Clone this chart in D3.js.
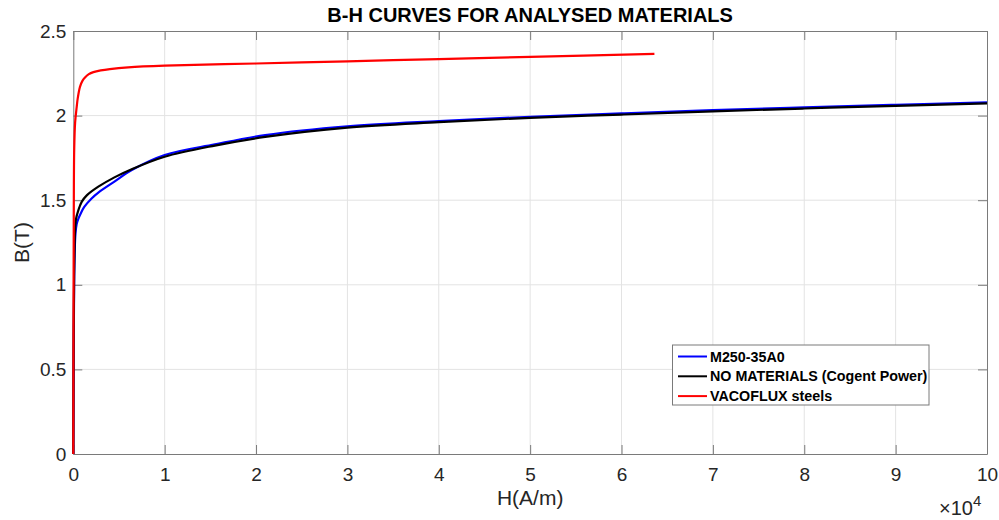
<!DOCTYPE html>
<html>
<head>
<meta charset="utf-8">
<script src="https://cdn.jsdelivr.net/npm/d3@7"></script>
<style>
  body { margin: 0; background: #fff; }
  text { font-family: "Liberation Sans", Arial, sans-serif; }
</style>
</head>
<body>
<div class="chart"></div>
<script>
// magnetic field strength (A/m) and flux density (T)
var hM250 = [0, 40, 90, 150, 250, 370, 550, 800, 1200, 2000, 2740, 4500, 6400, 10000, 15500, 21000, 30000, 40000, 50000, 60000, 70000, 80000, 90000, 100000]
var bM250 = [0, 0.6, 1.0, 1.2, 1.31, 1.36, 1.39, 1.42, 1.46, 1.51, 1.545, 1.61, 1.678, 1.767, 1.83, 1.885, 1.937, 1.968, 1.993, 2.013, 2.032, 2.049, 2.064, 2.078]

var hNo = [0, 40, 90, 150, 190, 300, 550, 920, 1500, 2740, 4500, 6390, 10000, 15500, 21000, 30000, 40000, 50000, 60000, 70000, 80000, 90000, 100000]
var bNo = [0, 0.7, 1.05, 1.25, 1.32, 1.39, 1.44, 1.49, 1.53, 1.58, 1.635, 1.683, 1.757, 1.823, 1.874, 1.929, 1.961, 1.987, 2.006, 2.025, 2.042, 2.058, 2.072]

var hVac = [0, 20, 50, 100, 200, 370, 480, 730, 1000, 1280, 1700, 2200, 3000, 4000, 6000, 10000, 20000, 30000, 40000, 50000, 63600]
var bVac = [0, 0.7, 1.4, 1.8, 1.96, 2.05, 2.10, 2.17, 2.205, 2.225, 2.245, 2.257, 2.267, 2.275, 2.285, 2.295, 2.308, 2.321, 2.334, 2.347, 2.365]

var seriesNames = ["M250-35A0", "NO MATERIALS (Cogent Power)", "VACOFLUX steels"]
var seriesColors = ["#0000ff", "#000000", "#ff0000"]

var xTicks = [0, 1, 2, 3, 4, 5, 6, 7, 8, 9, 10]   // x 10^4
var yTicks = [0, 0.5, 1, 1.5, 2, 2.5]

var series = [
  hM250.map((h, i) => [h, bM250[i]]),
  hNo.map((h, i) => [h, bNo[i]]),
  hVac.map((h, i) => [h, bVac[i]])
]

var svgW = 999, svgH = 520
var pLeft = 73.3, pRight = 987, pTop = 31, pBottom = 454

var svg = d3.select(".chart").append("svg").attr("width", svgW).attr("height", svgH)

var x = d3.scaleLinear().domain([0, 100000]).range([pLeft, pRight])
var y = d3.scaleLinear().domain([0, 2.5]).range([pBottom, pTop])

// grid
svg.append("g").selectAll("line").data(xTicks.slice(1, -1)).enter().append("line")
  .attr("x1", d => x(d * 1e4)).attr("x2", d => x(d * 1e4))
  .attr("y1", pTop).attr("y2", pBottom)
  .style("stroke", "#e3e3e3").style("stroke-width", 1)
svg.append("g").selectAll("line").data(yTicks.slice(1, -1)).enter().append("line")
  .attr("x1", pLeft).attr("x2", pRight)
  .attr("y1", d => y(d)).attr("y2", d => y(d))
  .style("stroke", "#e3e3e3").style("stroke-width", 1)

// axes (ticks inside, box on)
var axCol = "#7a7a7a"
function styleAxis(g) {
  g.select(".domain").style("stroke", axCol)
  g.selectAll(".tick line").style("stroke", axCol)
  g.selectAll(".tick text").style("fill", "#262626").style("font-size", "19px")
}
svg.append("g").attr("transform", "translate(0," + pBottom + ")")
  .call(d3.axisBottom(x).tickValues(xTicks.map(d => d * 1e4)).tickFormat(d => d / 1e4)
    .tickSize(-9).tickSizeOuter(0).tickPadding(14))
  .call(styleAxis)
svg.append("g").attr("transform", "translate(0," + pTop + ")")
  .call(d3.axisTop(x).tickValues(xTicks.map(d => d * 1e4)).tickFormat("")
    .tickSize(-9).tickSizeOuter(0))
  .call(styleAxis)
svg.append("g").attr("transform", "translate(" + pLeft + ",0)")
  .call(d3.axisLeft(y).tickValues(yTicks).tickFormat(d3.format("~g"))
    .tickSize(-9).tickSizeOuter(0).tickPadding(7))
  .call(styleAxis)
svg.append("g").attr("transform", "translate(" + pRight + ",0)")
  .call(d3.axisRight(y).tickValues(yTicks).tickFormat("")
    .tickSize(-9).tickSizeOuter(0))
  .call(styleAxis)

// curves
var line = d3.line().x(d => x(d[0])).y(d => y(d[1])).curve(d3.curveCatmullRom.alpha(0.5))
svg.append("g").selectAll("path").data(series).enter().append("path")
  .attr("d", line)
  .style("fill", "none")
  .style("stroke", (d, i) => seriesColors[i])
  .style("stroke-width", 2.2)
  .style("stroke-linejoin", "round")

// title and labels
svg.append("text").attr("x", (pLeft + pRight) / 2).attr("y", 22)
  .attr("text-anchor", "middle").text("B-H CURVES FOR ANALYSED MATERIALS")
  .style("font-size", "20px").style("font-weight", "bold").style("fill", "#000")
svg.append("text").attr("x", (pLeft + pRight) / 2).attr("y", 505)
  .attr("text-anchor", "middle").text("H(A/m)")
  .style("font-size", "21px").style("fill", "#262626")
svg.append("text").attr("transform", "translate(29," + (pTop + pBottom) / 2 + ") rotate(-90)")
  .attr("text-anchor", "middle").text("B(T)")
  .style("font-size", "21px").style("fill", "#262626")

var expo = svg.append("text").attr("x", 939).attr("y", 515)
  .style("font-size", "20px").style("fill", "#262626")
expo.append("tspan").text("\u00d710")
expo.append("tspan").attr("dy", -9).style("font-size", "15px").text("4")

// legend
var lg = svg.append("g")
lg.append("rect").attr("x", 672.5).attr("y", 345).attr("width", 256.5).attr("height", 60)
  .style("fill", "#fff").style("stroke", axCol).style("stroke-width", 1)
var rows = lg.selectAll("g.row").data(seriesNames).enter().append("g")
  .attr("transform", (d, i) => "translate(0," + (356.5 + i * 19.8) + ")")
rows.append("line").attr("x1", 678).attr("x2", 707).attr("y1", 0).attr("y2", 0)
  .style("stroke", (d, i) => seriesColors[i]).style("stroke-width", 2)
rows.append("text").attr("x", 710).attr("y", 0).attr("dy", "0.36em")
  .text(d => d).style("font-size", "14.3px").style("font-weight", "bold").style("fill", "#000")
</script>
</body>
</html>
